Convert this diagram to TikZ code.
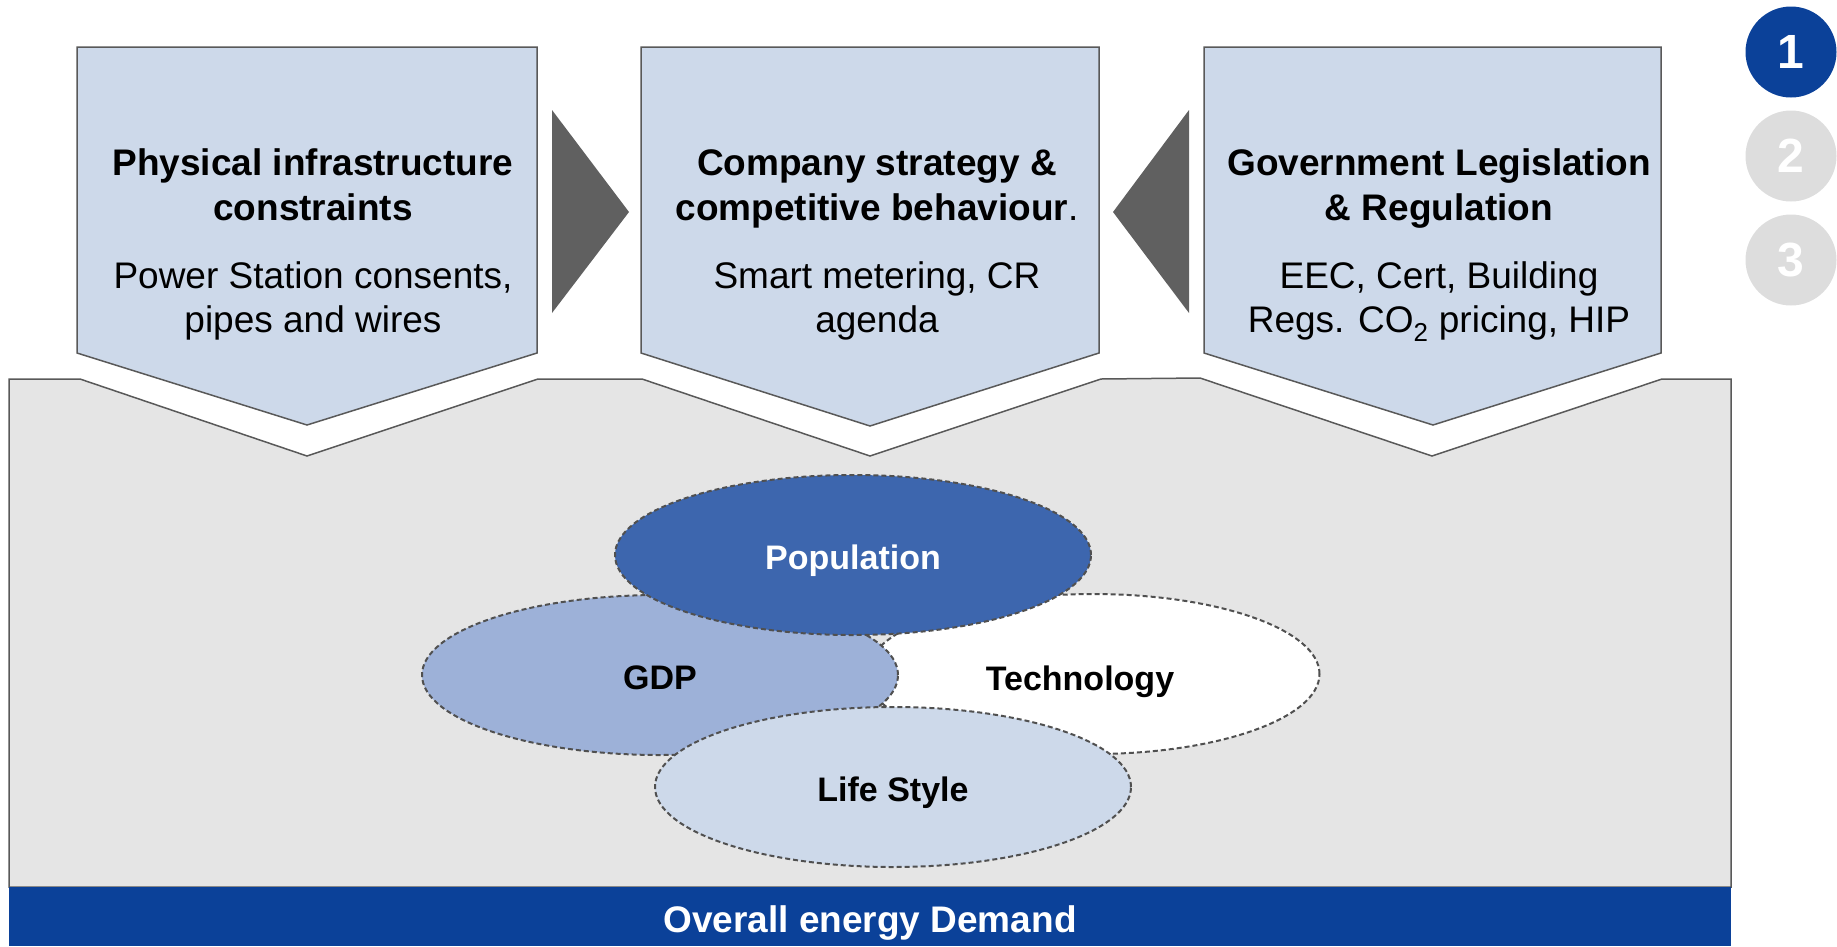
\documentclass[tikz,border=0pt]{standalone}
\usepackage{fontspec}
\setmainfont{Liberation Sans}
\usetikzlibrary{shapes.geometric}
\definecolor{boxfill}{RGB}{205,217,234}
\definecolor{edgegray}{RGB}{89,89,89}
\definecolor{dashgray}{RGB}{80,80,80}
\definecolor{regiongray}{RGB}{229,229,229}
\definecolor{arrowgray}{RGB}{96,96,96}
\definecolor{barblue}{RGB}{11,65,153}
\definecolor{popblue}{RGB}{61,102,174}
\definecolor{gdpblue}{RGB}{157,177,216}
\definecolor{lightcircle}{RGB}{221,221,221}
\begin{document}
\begin{tikzpicture}[x=1pt,y=-1pt,
  boxshape/.style={draw=edgegray,fill=boxfill,line width=1.5pt,line join=miter},
  regionshape/.style={draw=edgegray,fill=regiongray,line width=1.5pt},
  pointer/.style={fill=arrowgray,draw=none},
  titletext/.style={anchor=north,align=center,inner sep=0pt,font=\fontsize{37}{45}\selectfont\bfseries},
  bodytext/.style={anchor=north,align=center,inner sep=0pt,font=\fontsize{37}{44}\selectfont},
  factortext/.style={inner sep=0pt,text height=28pt,text depth=0pt,
    font=\fontsize{34}{40}\selectfont\bfseries},
  factor/.style={factortext,ellipse,draw=dashgray,line width=2pt,dash pattern=on 5pt off 3pt,
    minimum width=476pt,minimum height=160pt},
  stepdot/.style={circle,inner sep=0pt,minimum size=91pt,text=white,
    font=\fontsize{48}{56}\selectfont\bfseries},
  demandbar/.style={fill=barblue,inner sep=0pt,minimum width=1722pt,minimum height=59pt,
    text height=32pt,text depth=0pt,
    text=white,font=\fontsize{37}{44}\selectfont\bfseries}
]
\useasboundingbox (0,0) rectangle (1837,946);

% lower region
\draw[regionshape] (9,379) -- (80,379) -- (307,456) -- (538,379) -- (642,379)
  -- (870,456) -- (1101,379) -- (1200,378) -- (1432,456) -- (1662,379)
  -- (1731,379) -- (1731,887) -- (9,887) -- cycle;
\node[demandbar] (demand) at (870,916.5) {Overall energy Demand};

% top boxes
\draw[boxshape] (77,47) -- (537,47) -- (537,353) -- (307,425) -- (77,353) -- cycle;
\draw[boxshape] (641,47) -- (1099,47) -- (1099,353) -- (870,426) -- (641,353) -- cycle;
\draw[boxshape] (1204,47) -- (1661,47) -- (1661,353) -- (1433,425) -- (1204,353) -- cycle;

\node[titletext] (t1) at (313,147) {\rule{0pt}{28pt}Physical infrastructure\\constraints};
\node[bodytext] (b1) at (313,260) {\rule{0pt}{28pt}Power Station consents,\\pipes and wires};

\node[titletext] (t2) at (877,147) {\rule{0pt}{28pt}Company strategy \&\\competitive behaviour{\mdseries .}};
\node[bodytext] (b2) at (877,260) {\rule{0pt}{28pt}Smart metering, CR\\agenda};

\node[titletext] (t3) at (1439,147) {\rule{0pt}{28pt}Government Legislation\\\& Regulation};
\node[bodytext] (b3) at (1439,260) {\rule{0pt}{28pt}EEC, Cert, Building\\Regs. CO\textsubscript{2} pricing, HIP};

% pointers
\fill[pointer] (552,110) -- (629,212) -- (552,313) -- cycle;
\fill[pointer] (1189,110) -- (1113,212) -- (1189,313) -- cycle;

% factors
\node[factor,fill=white,minimum width=453pt] (tech) at (1093,674) {};
\node[factortext] (techlabel) at (1080,676) {Technology};
\node[factor,fill=gdpblue] (gdp) at (660,675) {GDP};
\node[factor,fill=boxfill] (life) at (893,787) {Life Style};
\node[factor,fill=popblue,text=white] (pop) at (853,555) {Population};

% step indicators
\node[stepdot,fill=barblue] (s1) at (1791,52) {1};
\node[stepdot,fill=lightcircle] (s2) at (1791,156) {2};
\node[stepdot,fill=lightcircle] (s3) at (1791,260) {3};
\end{tikzpicture}
\end{document}
